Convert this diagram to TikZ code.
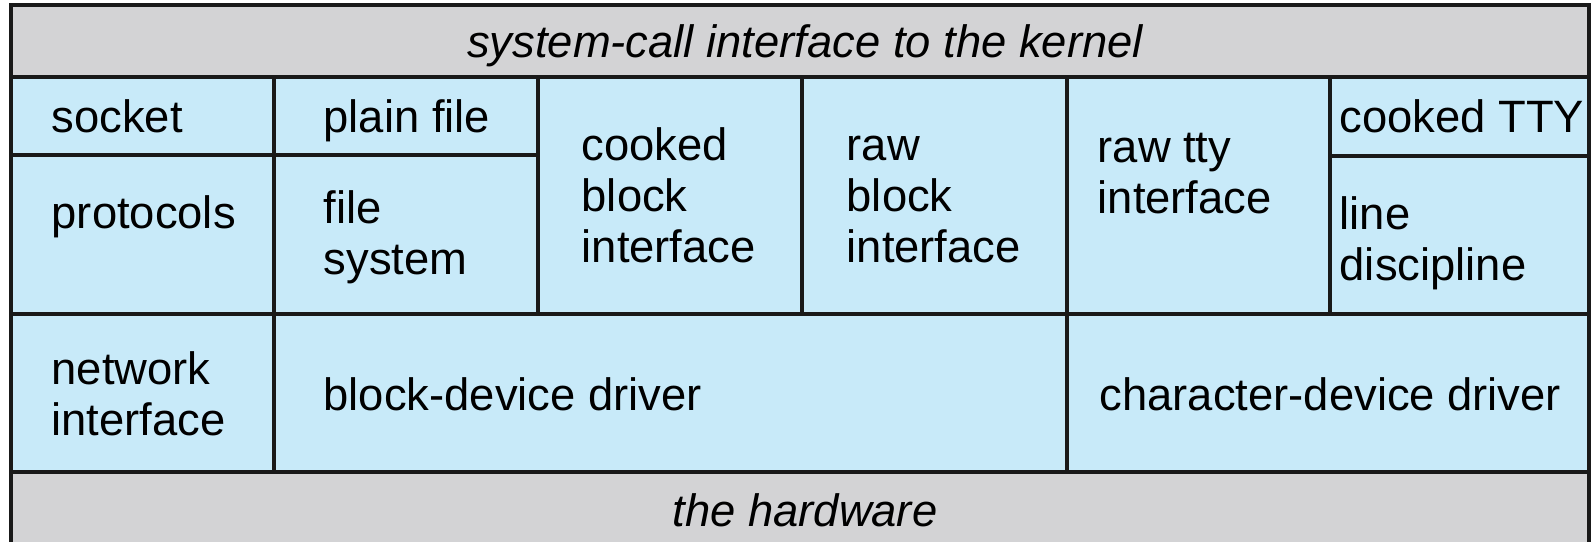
\documentclass[tikz,border=0pt]{standalone}
\usepackage{fontspec}
\setmainfont{Liberation Sans}
\definecolor{hwgray}{RGB}{211,211,213}
\definecolor{layerblue}{RGB}{200,234,249}
\begin{document}
\begin{tikzpicture}[x=0.01cm,y=-0.01cm,
    txt/.style={anchor=base west,inner sep=0pt,align=left,font=\fontsize{12.9}{14.5}\selectfont},
    band/.style={anchor=base,inner sep=0pt,font=\fontsize{12.9}{14.5}\selectfont\itshape},
    rule/.style={line width=0.95pt,black!90}]
    \useasboundingbox (0,0) rectangle (1593,541);

    \fill[hwgray] (11,5) rectangle (1589,77);
    \fill[layerblue] (11,77) rectangle (1589,472);
    \fill[hwgray] (11,472) rectangle (1589,545);

    \draw[rule] (11,545) -- (11,5) -- (1589,5) -- (1589,545);
    \draw[rule] (11,77) -- (1589,77);
    \draw[rule] (11,155) -- (538,155);
    \draw[rule] (1330,156) -- (1589,156);
    \draw[rule] (11,314) -- (1589,314);
    \draw[rule] (11,472) -- (1589,472);
    \draw[rule] (274,77) -- (274,472);
    \draw[rule] (538,77) -- (538,314);
    \draw[rule] (802,77) -- (802,314);
    \draw[rule] (1067,77) -- (1067,472);
    \draw[rule] (1330,77) -- (1330,314);

    % base anchor = baseline of the last line
    \node[band] (kernel) at (805,57) {system-call interface to the kernel};

    \node[txt] (socket) at (51,132) {socket};
    \node[txt] (plain) at (323,132) {plain file};
    \node[txt] (proto) at (51,228) {protocols};
    \node[txt] (fs) at (323,274) {file\\system};
    \node[txt] (cooked) at (581,262) {cooked\\block\\interface};
    \node[txt] (raw) at (846,262) {raw\\block\\interface};
    \node[txt] (rawtty) at (1097,213) {raw tty\\interface};
    \node[txt] (tty) at (1339,132) {cooked TTY};
    \node[txt] (line) at (1339,280) {line\\discipline};

    \node[txt] (net) at (51,435) {network\\interface};
    \node[txt] (blkdrv) at (323,410) {block-device driver};
    \node[txt] (chrdrv) at (1099,410) {character-device driver};

    \node[band] (hw) at (805,526) {the hardware};
\end{tikzpicture}
\end{document}
